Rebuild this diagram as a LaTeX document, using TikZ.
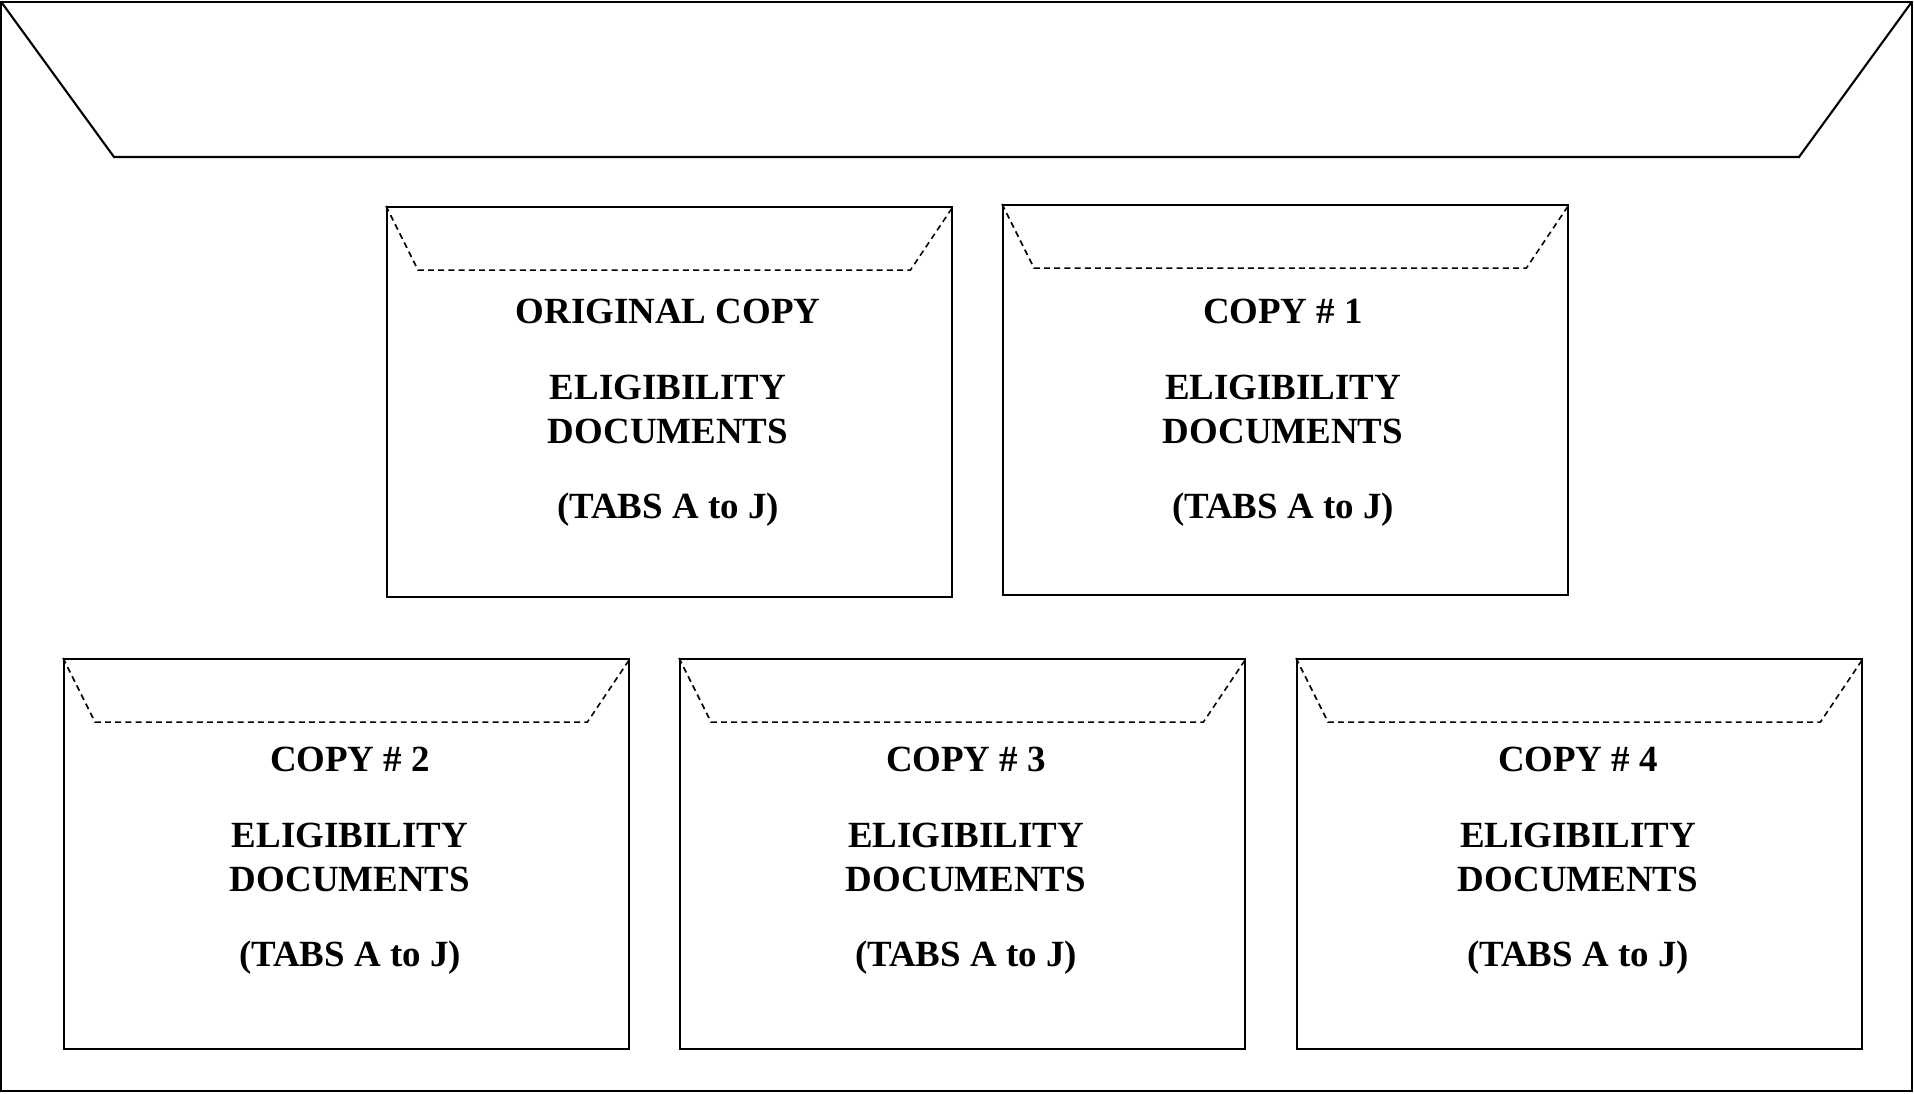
\documentclass[tikz,border=0pt]{standalone}
\usepackage{fontspec}
\setmainfont{Liberation Serif}
\tikzset{
  envbox/.style={draw=black, line width=0.6pt, anchor=north west, minimum width=5.65cm, minimum height=3.9cm, inner sep=0pt},
  flapline/.style={dashed, line width=0.45pt, dash pattern=on 1.7pt off 1.2pt},
  lbl/.style={align=center, font=\fontsize{10.5}{12.5}\selectfont\bfseries, inner sep=0pt}
}
\begin{document}
\begin{tikzpicture}[x=0.01cm, y=-0.01cm]
        \useasboundingbox (0,0) rectangle (1914,1093);
        \draw[line width=0.6pt] (1,2) rectangle (1912,1091);
        \draw[line width=0.6pt] (2,3) -- (114,157) -- (1799,157) -- (1911,3);
        \node[envbox] (b0) at (386,206) {};
        \node[envbox] (b1) at (1002,204) {};
        \node[envbox] (b2) at (63,658) {};
        \node[envbox] (b3) at (679,658) {};
        \node[envbox] (b4) at (1296,658) {};
        \foreach \b in {b0,b1,b2,b3,b4} {
            \draw[flapline] (\b.north west) -- ([shift={(0.32cm,-0.64cm)}]\b.north west)
                -- ([shift={(-0.43cm,-0.64cm)}]\b.north east) -- (\b.north east);
        }
        \node[lbl] (t0) at (668,413) {ORIGINAL COPY\\[9pt]ELIGIBILITY\\DOCUMENTS\\[9pt](TABS A to J)};
        \node[lbl] (t1) at (1283,413) {COPY \# 1\\[9pt]ELIGIBILITY\\DOCUMENTS\\[9pt](TABS A to J)};
        \node[lbl] (t2) at (350,861) {COPY \# 2\\[9pt]ELIGIBILITY\\DOCUMENTS\\[9pt](TABS A to J)};
        \node[lbl] (t3) at (966,861) {COPY \# 3\\[9pt]ELIGIBILITY\\DOCUMENTS\\[9pt](TABS A to J)};
        \node[lbl] (t4) at (1578,861) {COPY \# 4\\[9pt]ELIGIBILITY\\DOCUMENTS\\[9pt](TABS A to J)};
    \end{tikzpicture}
\end{document}
